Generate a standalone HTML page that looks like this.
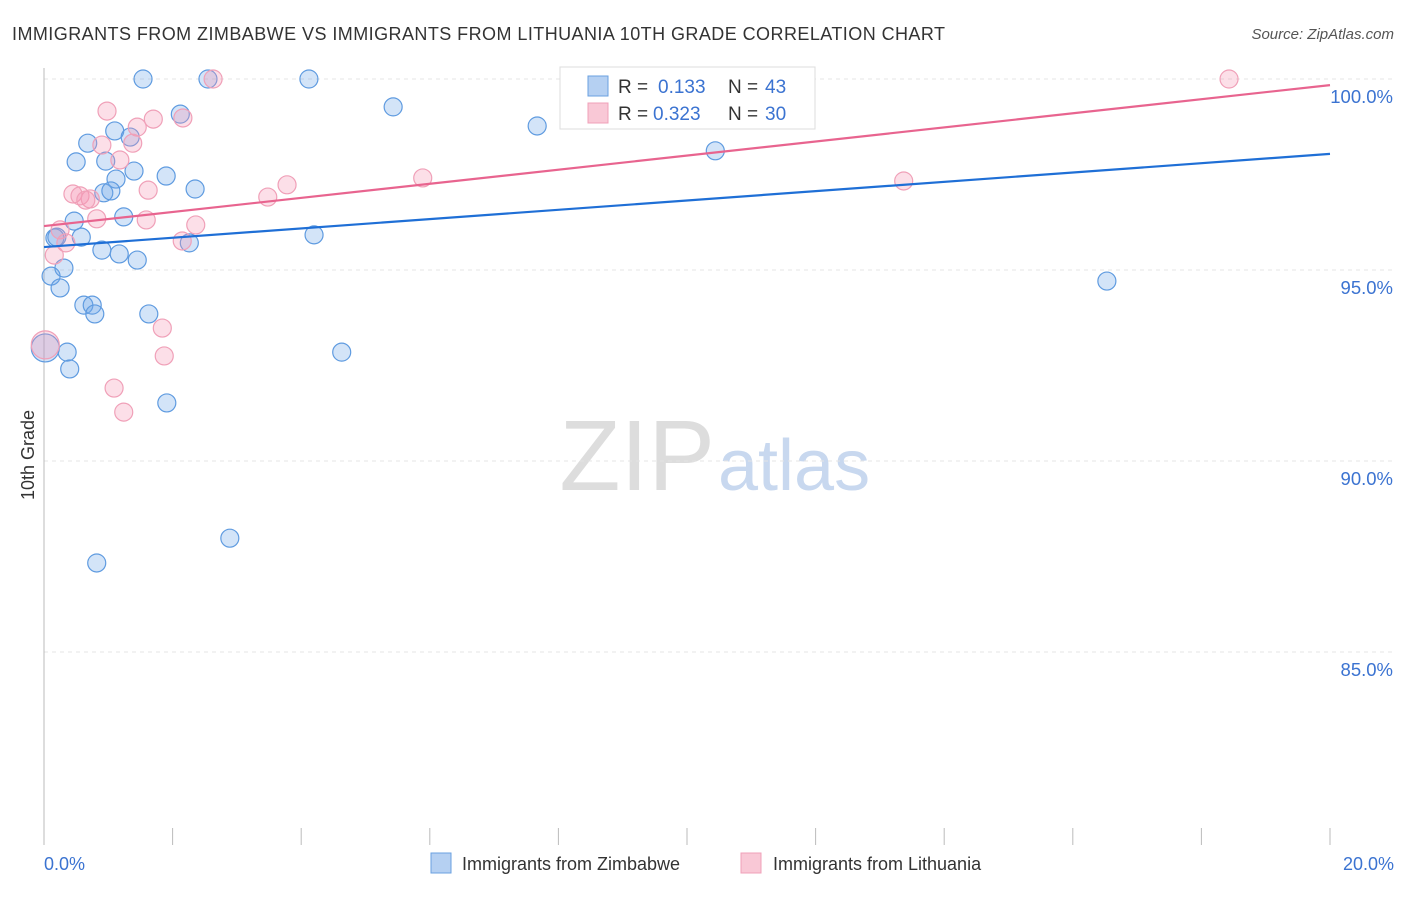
<!DOCTYPE html>
<html><head><meta charset="utf-8"><style>
body{margin:0;background:#fff;font-family:"Liberation Sans",sans-serif}
svg text{font-family:"Liberation Sans",sans-serif}
</style></head><body>
<svg width="1406" height="892">
<text x="12" y="40" font-size="18" fill="#333" textLength="933" lengthAdjust="spacing">IMMIGRANTS FROM ZIMBABWE VS IMMIGRANTS FROM LITHUANIA 10TH GRADE CORRELATION CHART</text>
<text x="1394" y="39" font-size="15" fill="#555" text-anchor="end" font-style="italic">Source: ZipAtlas.com</text>
<text x="715" y="490" font-size="100" fill="#ddd" text-anchor="end" font-family="Liberation Serif">ZIP</text>
<text x="718" y="490" font-size="72" fill="#c8d8ef">atlas</text>
<g id="grid"></g><g id="axes"></g><g id="pts"></g><g id="lines"></g>
<text transform="translate(34,455) rotate(-90)" font-size="18" fill="#333" text-anchor="middle">10th Grade</text>
<text x="44" y="870" font-size="18" fill="#3b73d1">0.0%</text>
<text x="1394" y="870" font-size="18" fill="#3b73d1" text-anchor="end">20.0%</text>
<g>
<rect x="560" y="67" width="255" height="62" fill="#fff" stroke="#ddd"/>
<rect x="588" y="76" width="20" height="20" fill="#b5d0f2" stroke="#6aa0e0"/>
<rect x="588" y="103" width="20" height="20" fill="#f9c8d6" stroke="#f0a0b8"/>
<text x="618" y="93" font-size="19" fill="#333">R =</text>
<text x="658" y="93" font-size="19" fill="#3b73d1">0.133</text>
<text x="728" y="93" font-size="19" fill="#333">N =</text>
<text x="765" y="93" font-size="19" fill="#3b73d1">43</text>
<text x="618" y="120" font-size="19" fill="#333">R =</text>
<text x="653" y="120" font-size="19" fill="#3b73d1">0.323</text>
<text x="728" y="120" font-size="19" fill="#333">N =</text>
<text x="765" y="120" font-size="19" fill="#3b73d1">30</text>
</g>
<g>
<rect x="431" y="853" width="20" height="20" fill="#b5d0f2" stroke="#6aa0e0"/>
<text x="462" y="870" font-size="18" fill="#333">Immigrants from Zimbabwe</text>
<rect x="741" y="853" width="20" height="20" fill="#f9c8d6" stroke="#f0a0b8"/>
<text x="773" y="870" font-size="18" fill="#333">Immigrants from Lithuania</text>
</g>
</svg>
<script>
const yTicks=[100,95,90,85];
const xTicks=[0,2,4,6,8,10,12,14,16,18,20];
const zimX=[1.54,2.55,4.12,5.43,7.67,10.44,16.53,2.12,0.68,1.10,1.34,0.50,0.96,1.40,1.12,1.90,0.93,1.04,2.35,1.24,0.47,0.17,0.58,4.20,0.90,1.17,1.45,2.26,0.31,0.11,0.25,0.62,0.75,0.79,1.63,0.36,4.63,0.40,1.91,2.89,0.82,0.02,0.20];
const zimY=[100,100,100,99.27,98.77,98.12,94.71,99.08,98.32,98.64,98.48,97.83,97.85,97.59,97.38,97.46,97.02,97.07,97.12,96.39,96.28,95.84,95.86,95.92,95.52,95.42,95.26,95.71,95.05,94.84,94.53,94.08,94.08,93.85,93.85,92.85,92.85,92.41,91.52,87.98,87.33,92.96,95.86];
const litX=[2.63,18.43,0.98,1.70,2.16,1.45,0.90,1.38,1.18,1.62,0.45,0.56,0.72,0.65,3.78,5.89,13.37,3.48,0.82,1.59,2.36,0.25,2.15,0.34,0.16,1.84,1.87,1.09,1.24,0.02];
const litY=[100,100,99.16,98.95,98.98,98.74,98.27,98.32,97.88,97.09,96.99,96.94,96.86,96.83,97.23,97.41,97.33,96.91,96.34,96.31,96.18,96.05,95.76,95.71,95.39,93.48,92.75,91.91,91.28,93.04];
const zimTrend=[95.60,98.04];
const litTrend=[96.15,99.84];
const X=v=>44+v/20*1286, Y=v=>79+(100-v)*38.2;
const NS='http://www.w3.org/2000/svg';
function mk(p,t,a){const e=document.createElementNS(NS,t);for(const k in a)e.setAttribute(k,a[k]);document.getElementById(p).appendChild(e);return e;}
yTicks.forEach(v=>{
 const l=mk('grid','line',{x1:44,x2:1394,y1:Y(v),y2:Y(v),stroke:'#e4e4e4','stroke-dasharray':'4,4'});
 
 
 const t=mk('grid','text',{x:1393,y:Y(v)+24,'font-size':18.5,fill:'#3b73d1','text-anchor':'end'});
 t.textContent=v.toFixed(1)+'%';
 
 
});
const ya=mk('axes','line',{x1:44,x2:44,y1:68,y2:845,stroke:'#bbb'});


xTicks.forEach(v=>{
 const l=mk('axes','line',{x1:X(v),x2:X(v),y1:828,y2:845,stroke:'#bbb'});
 
 
});
function pts(xs,ys,fill,stroke,name){
 xs.forEach((x,i)=>{
  const big=x<0.05;
  const c=mk('pts','circle',{cx:X(x),cy:Y(ys[i]),r:big?14:9,fill:fill,stroke:stroke,'stroke-width':1.2});
  
  
 });
}
pts(zimX,zimY,'rgba(110,165,232,0.3)','#5f9be0','point-zimbabwe');
pts(litX,litY,'rgba(244,150,180,0.3)','#f0a0b8','point-lithuania');
const l1=mk('lines','line',{x1:X(0),x2:X(20),y1:Y(zimTrend[0]),y2:Y(zimTrend[1]),stroke:'#1f6fd6','stroke-width':2.2});


const l2=mk('lines','line',{x1:X(0),x2:X(20),y1:Y(litTrend[0]),y2:Y(litTrend[1]),stroke:'#e8648f','stroke-width':2.2});


</script>
</body></html>
